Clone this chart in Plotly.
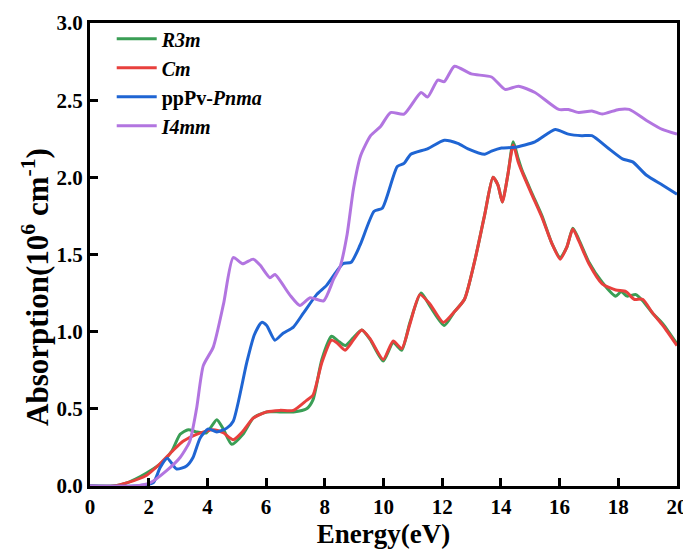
import plotly.graph_objects as go

# ---- data ----
r3m_x = [0, 0.8, 1.25, 1.7, 2.15, 2.5, 2.8, 3.07, 3.35, 3.63, 3.97, 4.32, 4.54, 4.83, 5.21, 5.56, 6.02, 6.47, 6.93, 7.38, 7.6, 7.9, 8.23, 8.45, 8.7, 8.97, 9.26, 9.54, 9.99, 10.33, 10.62, 10.9, 11.28, 11.6, 12.07, 12.42, 12.76, 13.11, 13.45, 13.73, 13.9, 14.05, 14.24, 14.42, 14.59, 14.71, 15.05, 15.4, 15.74, 16.02, 16.25, 16.45, 16.65, 17.0, 17.45, 17.91, 18.1, 18.3, 18.6, 18.83, 19.17, 19.52, 20]
r3m_y = [0, 0, 0.02, 0.06, 0.11, 0.16, 0.23, 0.335, 0.365, 0.35, 0.345, 0.43, 0.37, 0.27, 0.335, 0.44, 0.48, 0.48, 0.48, 0.5, 0.56, 0.82, 0.97, 0.94, 0.91, 0.96, 1.01, 0.95, 0.81, 0.93, 0.88, 1.06, 1.25, 1.16, 1.04, 1.13, 1.21, 1.46, 1.76, 2.0, 1.95, 1.84, 2.02, 2.23, 2.12, 2.05, 1.9, 1.75, 1.57, 1.48, 1.55, 1.67, 1.6, 1.45, 1.32, 1.23, 1.26, 1.23, 1.24, 1.2, 1.12, 1.05, 0.92]

cm_x = [0, 0.8, 1.25, 1.93, 2.39, 2.83, 3.17, 3.63, 4.2, 4.54, 4.88, 5.21, 5.56, 6.02, 6.47, 6.93, 7.38, 7.6, 7.9, 8.23, 8.4, 8.69, 8.97, 9.26, 9.54, 9.99, 10.33, 10.62, 10.9, 11.24, 11.58, 12.04, 12.42, 12.76, 13.11, 13.45, 13.73, 13.9, 14.05, 14.24, 14.42, 14.59, 14.71, 15.05, 15.4, 15.74, 16.02, 16.25, 16.45, 16.65, 17.0, 17.45, 17.91, 18.26, 18.54, 18.83, 19.17, 19.52, 20]
cm_y = [0, 0, 0.02, 0.07, 0.145, 0.23, 0.29, 0.335, 0.365, 0.345, 0.30, 0.355, 0.44, 0.48, 0.49, 0.49, 0.555, 0.59, 0.8, 0.945, 0.93, 0.88, 0.945, 1.01, 0.955, 0.82, 0.94, 0.89, 1.05, 1.24, 1.18, 1.06, 1.13, 1.21, 1.46, 1.76, 2.0, 1.95, 1.84, 2.02, 2.21, 2.10, 2.04, 1.89, 1.74, 1.57, 1.47, 1.55, 1.665, 1.59, 1.44, 1.31, 1.27, 1.26, 1.21, 1.21, 1.12, 1.04, 0.91]

pnma_x = [0, 1.5, 2.15, 2.39, 2.63, 2.95, 3.29, 3.51, 3.75, 4.03, 4.32, 4.66, 4.88, 5.34, 5.6, 5.85, 6.02, 6.3, 6.58, 6.93, 7.27, 7.72, 8.06, 8.4, 8.62, 8.9, 9.2, 9.68, 9.96, 10.47, 10.7, 10.93, 11.5, 12.07, 12.53, 12.88, 13.45, 13.68, 14.02, 14.48, 15.16, 15.85, 16.3, 16.76, 17.1, 17.68, 18.14, 18.49, 18.95, 19.5, 20]
pnma_y = [0, 0, 0.02, 0.12, 0.18, 0.11, 0.13, 0.185, 0.31, 0.37, 0.35, 0.375, 0.42, 0.8, 0.98, 1.06, 1.04, 0.945, 0.99, 1.03, 1.12, 1.24, 1.30, 1.39, 1.44, 1.45, 1.56, 1.78, 1.80, 2.07, 2.09, 2.15, 2.185, 2.24, 2.22, 2.185, 2.15, 2.17, 2.19, 2.195, 2.23, 2.31, 2.28, 2.27, 2.27, 2.185, 2.12, 2.10, 2.015, 1.95, 1.89]

i4mm_x = [0, 1.5, 2.04, 2.61, 3.07, 3.4, 3.63, 3.86, 4.2, 4.55, 4.88, 5.2, 5.56, 5.8, 6.13, 6.3, 6.8, 7.15, 7.5, 7.96, 8.3, 8.52, 8.76, 8.98, 9.22, 9.56, 9.9, 10.24, 10.7, 11.28, 11.5, 11.85, 12.07, 12.42, 12.99, 13.68, 14.14, 14.6, 15.16, 15.97, 16.3, 16.65, 17.1, 17.45, 18.02, 18.37, 18.95, 19.5, 20]
i4mm_y = [0, 0, 0.02, 0.1, 0.185, 0.29, 0.5, 0.78, 0.9, 1.18, 1.48, 1.44, 1.47, 1.43, 1.35, 1.37, 1.24, 1.17, 1.22, 1.20, 1.34, 1.42, 1.63, 1.93, 2.14, 2.27, 2.33, 2.42, 2.41, 2.55, 2.52, 2.63, 2.62, 2.72, 2.67, 2.65, 2.57, 2.59, 2.55, 2.44, 2.44, 2.42, 2.43, 2.41, 2.44, 2.44, 2.37, 2.31, 2.28]

x_ticks = [0, 2, 4, 6, 8, 10, 12, 14, 16, 18, 20]
y_ticks = [0.0, 0.5, 1.0, 1.5, 2.0, 2.5, 3.0]

series = [
    ("<i>R3m</i>", r3m_x, r3m_y, "#3a9e55"),
    ("<i>Cm</i>", cm_x, cm_y, "#e8403d"),
    ("ppPv-<i>Pnma</i>", pnma_x, pnma_y, "#1f65d3"),
    ("<i>I4mm</i>", i4mm_x, i4mm_y, "#b275e0"),
]

FONT = "Liberation Serif"

fig = go.Figure()
for name, xs, ys, col in series:
    fig.add_trace(go.Scatter(
        x=xs, y=ys, mode="lines", name=name,
        line=dict(color=col, width=3, shape="spline", smoothing=0.6),
    ))

axis_common = dict(
    showline=True, linecolor="black", linewidth=3, mirror=True,
    ticks="inside", ticklen=8, tickwidth=3, tickcolor="black",
    showgrid=False, zeroline=False, automargin=False,
    ticklabeloverflow="allow",
    tickfont=dict(family=FONT, size=21, color="black", weight="bold"),
)

fig.update_layout(
    width=683, height=548,
    margin=dict(l=82, r=14, t=11, b=70),
    paper_bgcolor="white", plot_bgcolor="white",
    font=dict(family=FONT, color="black"),
    showlegend=True,
    legend=dict(
        x=0.037, y=1.008, xanchor="left", yanchor="top",
        bgcolor="rgba(0,0,0,0)", borderwidth=0,
        font=dict(family=FONT, size=20, color="black", weight="bold"),
        tracegroupgap=0, itemwidth=40,
    ),
    xaxis=dict(
        range=[0, 20], tickvals=x_ticks, ticktext=[str(v) for v in x_ticks],
        title=dict(text="Energy(eV)", font=dict(family=FONT, size=27, color="black", weight="bold"), standoff=0),
        **axis_common,
    ),
    yaxis=dict(
        range=[0, 3], tickvals=y_ticks, ticktext=[f"{v:.1f}" for v in y_ticks],
        **axis_common,
    ),
    annotations=[dict(
        text="Absorption(10<sup>6</sup> cm<sup>-1</sup>)",
        xref="paper", yref="paper", x=-0.092, y=0.43,
        xanchor="center", yanchor="middle", textangle=-90, showarrow=False,
        font=dict(family=FONT, size=31, color="black", weight="bold"),
    )],
)

fig.write_html("out.html")
